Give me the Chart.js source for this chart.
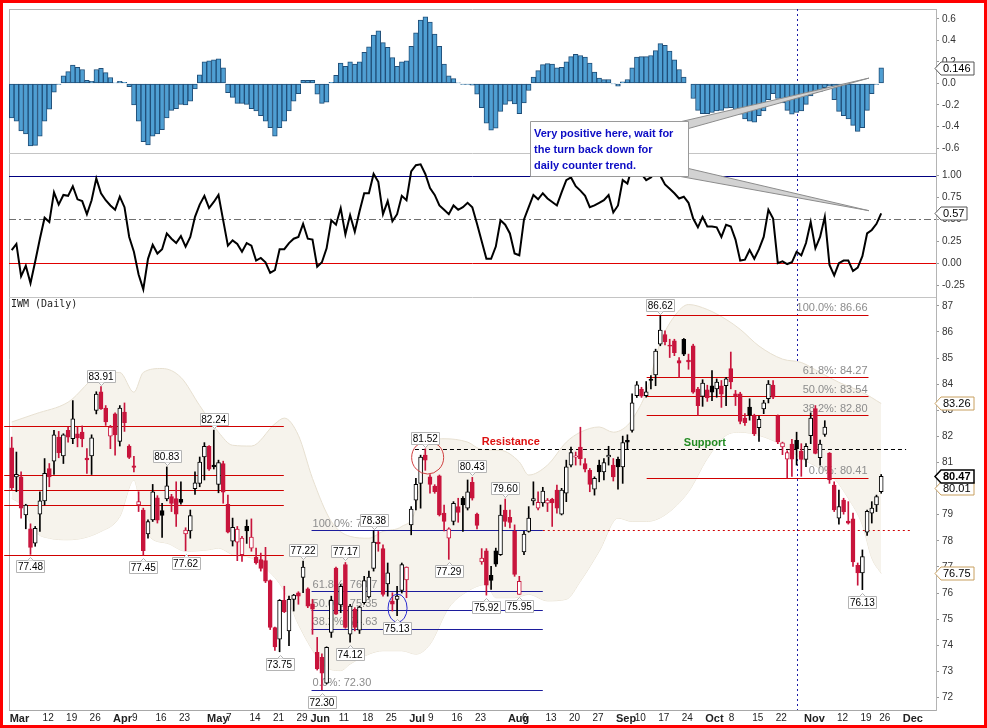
<!DOCTYPE html>
<html>
<head>
<meta charset="utf-8">
<title>IWM (Daily)</title>
<script src="https://cdn.jsdelivr.net/npm/chart.js@4.4.0/dist/chart.umd.min.js"></script>
<style>
  html, body { margin: 0; padding: 0; background: #fff; }
  #wrap { position: relative; width: 987px; height: 728px; }
  #chart { position: absolute; left: 0; top: 0; }
  #frame { position: absolute; left: 0; top: 0; width: 987px; height: 728px; box-sizing: border-box; border: 3px solid #ff0000; pointer-events: none; }
</style>
</head>
<body>
<div id="wrap">
  <canvas id="chart" width="987" height="728"></canvas>
  <div id="frame"></div>
</div>
<script>
// ---- daily IWM prices, Mar 1 - Nov 26 2012 (one entry per trading day) ----
const openP = [
  81.56, 80.45, 80.45, 78.99, 78.46, 77.91, 79.02, 79.53, 80.77, 81.05,
  81.97, 81.25, 82.23, 81.91, 82.10, 82.16, 81.17, 81.25, 82.99, 83.71,
  83.08, 82.01, 82.86, 81.81, 82.93, 81.63, 80.87, 79.37, 79.18, 78.26,
  78.80, 79.65, 79.16, 79.60, 79.69, 79.62, 79.59, 78.26, 78.38, 80.00,
  80.20, 81.21, 81.62, 80.90, 80.16, 80.96, 79.40, 77.99, 77.95, 77.47,
  78.55, 77.72, 77.38, 77.28, 77.24, 76.48, 74.68, 74.23, 75.72, 74.55,
  75.76, 76.01, 76.60, 76.16, 75.59, 73.73, 73.54, 72.55, 74.49, 76.96,
  75.54, 77.09, 74.42, 75.38, 74.58, 75.63, 75.85, 76.94, 77.95, 77.70,
  76.35, 75.69, 75.76, 76.10, 76.50, 78.61, 79.56, 80.20, 81.28, 80.45,
  80.10, 80.49, 79.06, 78.10, 78.74, 79.31, 79.63, 79.25, 80.24, 79.02,
  77.19, 77.62, 76.68, 77.62, 77.47, 79.18, 78.90, 78.36, 75.95, 77.57,
  78.36, 79.53, 79.25, 79.45, 79.44, 79.60, 79.94, 79.02, 79.82, 80.90,
  81.20, 81.59, 80.96, 80.70, 79.98, 80.90, 80.64, 81.21, 80.90, 81.12,
  80.83, 81.85, 82.23, 83.56, 83.81, 83.56, 84.19, 84.35, 85.53, 85.90,
  85.50, 85.66, 84.90, 85.72, 84.92, 85.47, 83.81, 83.53, 83.78, 83.94,
  83.82, 83.94, 83.94, 84.60, 83.63, 83.63, 82.70, 83.12, 82.80, 82.33,
  83.05, 83.44, 83.96, 82.78, 81.60, 81.13, 81.70, 81.85, 81.43, 81.12,
  82.03, 83.06, 81.18, 82.07, 81.36, 80.13, 78.87, 79.56, 78.76, 78.84,
  77.06, 76.77, 78.33, 79.06, 79.37, 79.88
];
const highP = [
  81.97, 81.40, 80.64, 79.40, 78.65, 78.55, 79.88, 81.15, 80.96, 82.23,
  82.19, 82.10, 82.36, 83.37, 82.36, 82.40, 81.53, 82.06, 83.71, 83.91,
  83.18, 82.42, 82.90, 83.18, 83.28, 81.68, 81.24, 79.88, 79.25, 78.80,
  80.16, 79.73, 79.44, 80.83, 79.78, 80.26, 80.26, 78.50, 79.18, 80.64,
  81.21, 81.76, 81.65, 82.24, 81.09, 81.05, 79.75, 78.87, 78.55, 78.17,
  78.80, 78.84, 77.72, 77.53, 77.75, 76.50, 74.70, 75.75, 76.26, 75.88,
  75.95, 76.05, 77.22, 76.20, 75.76, 74.30, 73.67, 73.94, 75.88, 76.99,
  76.33, 77.17, 75.57, 75.44, 75.50, 76.64, 76.84, 78.38, 78.36, 77.85,
  77.15, 76.01, 76.26, 77.15, 77.00, 79.31, 80.39, 81.28, 81.52, 80.54,
  80.15, 80.52, 79.37, 78.50, 79.50, 79.63, 79.69, 80.33, 80.43, 79.06,
  77.70, 77.70, 77.02, 77.72, 79.37, 79.60, 79.18, 78.61, 76.64, 78.36,
  79.31, 80.26, 79.88, 80.05, 79.62, 79.63, 80.13, 80.01, 81.09, 81.59,
  81.40, 82.35, 81.15, 80.77, 80.45, 81.09, 81.15, 81.62, 81.15, 81.21,
  82.01, 82.06, 83.63, 84.10, 83.88, 84.10, 84.33, 85.34, 86.62, 86.04,
  85.72, 85.72, 85.02, 85.75, 85.15, 85.53, 83.88, 84.17, 83.96, 84.52,
  84.20, 84.14, 84.26, 85.23, 83.76, 83.69, 82.87, 83.44, 82.85, 82.78,
  83.38, 84.14, 84.14, 82.82, 81.78, 81.45, 81.89, 82.16, 81.72, 81.72,
  82.90, 83.18, 81.86, 82.60, 81.38, 80.26, 79.94, 79.63, 79.50, 79.06,
  77.15, 77.65, 79.18, 79.50, 79.75, 80.54
];
const lowP = [
  79.94, 79.88, 78.87, 78.46, 77.48, 77.79, 78.36, 79.37, 80.07, 80.54,
  81.18, 80.96, 81.78, 81.72, 81.60, 81.60, 80.58, 80.54, 82.86, 83.03,
  82.42, 81.53, 81.28, 81.63, 82.19, 81.15, 80.64, 79.12, 77.45, 78.10,
  78.74, 78.68, 78.13, 79.53, 79.12, 78.55, 79.40, 77.62, 78.10, 79.78,
  80.07, 80.33, 80.70, 80.75, 79.84, 79.44, 78.30, 77.80, 77.24, 77.21,
  77.90, 77.60, 77.11, 76.84, 76.40, 74.60, 73.80, 73.75, 75.25, 73.98,
  75.31, 75.57, 76.01, 75.44, 74.42, 73.05, 72.30, 72.52, 74.30, 75.18,
  75.25, 74.65, 74.12, 74.55, 74.45, 75.57, 75.80, 76.84, 77.60, 75.88,
  75.88, 75.31, 75.13, 76.00, 75.82, 78.23, 79.18, 79.25, 80.70, 79.82,
  79.82, 78.95, 78.38, 77.29, 78.61, 78.71, 78.36, 79.18, 79.56, 78.46,
  77.10, 75.92, 76.14, 77.02, 77.44, 78.55, 78.49, 76.64, 75.95, 77.47,
  78.33, 79.37, 79.18, 79.32, 79.12, 78.55, 79.06, 78.99, 79.50, 80.83,
  80.90, 80.90, 80.64, 79.88, 79.75, 80.26, 80.33, 80.90, 80.29, 79.98,
  80.20, 81.53, 82.16, 83.49, 83.49, 83.50, 83.82, 83.94, 85.47, 85.50,
  85.02, 85.09, 84.26, 85.09, 84.57, 83.65, 82.80, 83.15, 83.34, 83.37,
  83.50, 83.11, 83.18, 83.82, 83.18, 82.48, 82.42, 82.62, 82.03, 81.81,
  82.87, 83.28, 83.44, 81.72, 81.30, 80.41, 80.47, 80.90, 80.47, 80.84,
  81.72, 81.33, 80.90, 82.00, 80.20, 79.12, 78.64, 79.02, 78.64, 77.02,
  76.30, 76.13, 78.21, 78.68, 79.12, 79.82
];
const closeP = [
  80.03, 80.55, 79.25, 79.37, 77.75, 78.48, 79.53, 80.58, 80.45, 82.06,
  81.38, 82.06, 81.97, 82.67, 81.94, 81.90, 81.10, 81.94, 83.62, 83.05,
  82.55, 82.36, 82.06, 83.08, 82.52, 81.19, 80.81, 79.50, 77.62, 78.74,
  79.88, 78.79, 78.97, 80.11, 79.43, 79.02, 79.47, 78.41, 78.97, 80.22,
  81.02, 81.62, 80.74, 80.83, 81.00, 79.86, 78.33, 78.52, 78.45, 78.10,
  78.38, 78.14, 77.15, 76.94, 76.45, 74.68, 73.94, 75.72, 75.29, 75.76,
  75.92, 75.88, 76.99, 75.50, 75.38, 73.09, 72.93, 73.92, 75.72, 75.19,
  76.26, 74.68, 75.50, 74.68, 75.46, 76.48, 76.61, 77.95, 77.88, 75.95,
  76.77, 75.57, 75.88, 77.09, 76.99, 79.22, 80.16, 81.21, 81.09, 80.16,
  79.88, 78.99, 78.74, 78.46, 79.44, 79.09, 79.37, 79.88, 79.63, 78.59,
  77.34, 76.30, 76.48, 77.11, 78.99, 78.74, 78.70, 76.71, 76.45, 78.26,
  78.87, 79.62, 79.47, 79.90, 79.56, 79.45, 79.25, 79.94, 80.83, 81.38,
  81.25, 81.15, 80.74, 80.16, 80.39, 80.64, 81.00, 81.28, 80.45, 80.83,
  81.76, 81.78, 83.28, 83.97, 83.54, 83.71, 84.14, 85.27, 86.07, 85.62,
  85.45, 85.21, 84.80, 85.15, 84.85, 83.69, 83.18, 84.04, 83.47, 83.69,
  84.08, 83.62, 84.20, 84.09, 83.54, 82.57, 82.52, 82.80, 82.10, 82.65,
  83.28, 84.00, 83.50, 81.79, 81.75, 81.38, 81.13, 81.53, 81.12, 81.62,
  82.70, 81.35, 81.70, 82.36, 80.33, 79.18, 79.31, 79.12, 78.68, 77.19,
  76.77, 77.40, 79.13, 79.25, 79.69, 80.47
];

// ---- MACD histogram (top pane) ----
const histVals = [
  -0.32, -0.35, -0.44, -0.47, -0.58, -0.575, -0.49, -0.35, -0.24, -0.08,
  -0.01, 0.07, 0.11, 0.17, 0.15, 0.13, 0.03, 0.02, 0.13, 0.14,
  0.10, 0.055, 0.006, 0.02, 0.01, -0.03, -0.20, -0.35, -0.54, -0.57,
  -0.49, -0.47, -0.43, -0.32, -0.25, -0.235, -0.195, -0.20, -0.165, -0.05,
  0.08, 0.20, 0.21, 0.22, 0.23, 0.145, -0.085, -0.13, -0.185, -0.185,
  -0.195, -0.235, -0.255, -0.30, -0.35, -0.41, -0.49, -0.41, -0.35, -0.255,
  -0.165, -0.095, 0.03, 0.03, 0.03, -0.10, -0.185, -0.175, 0.01, 0.075,
  0.19, 0.16, 0.20, 0.18, 0.20, 0.29, 0.34, 0.45, 0.49, 0.38,
  0.335, 0.24, 0.16, 0.20, 0.21, 0.345, 0.47, 0.59, 0.62, 0.57,
  0.46, 0.345, 0.18, 0.07, 0.045, 0.006, -0.01, -0.01, -0.015, -0.10,
  -0.225, -0.37, -0.435, -0.415, -0.26, -0.195, -0.165, -0.19, -0.28, -0.18,
  -0.065, 0.06, 0.12, 0.175, 0.185, 0.18, 0.145, 0.15, 0.20, 0.25,
  0.27, 0.26, 0.245, 0.19, 0.105, 0.05, 0.035, 0.037, -0.003, -0.025,
  0.015, 0.037, 0.145, 0.245, 0.25, 0.25, 0.26, 0.305, 0.37, 0.355,
  0.30, 0.22, 0.13, 0.06, 0.0, -0.14, -0.25, -0.28, -0.28, -0.27,
  -0.255, -0.25, -0.23, -0.225, -0.25, -0.285, -0.33, -0.35, -0.36, -0.30,
  -0.255, -0.15, -0.095, -0.14, -0.18, -0.25, -0.285, -0.27, -0.255, -0.195,
  -0.115, -0.085, -0.075, -0.04, -0.025, -0.15, -0.26, -0.30, -0.33, -0.39,
  -0.445, -0.41, -0.25, -0.095, -0.01, 0.146
];

// ---- oscillator (middle pane) ----
const oscVals = [
  0.15, 0.22, -0.15, -0.03, -0.23, 0.02, 0.28, 0.52, 0.47, 0.81,
  0.67, 0.78, 0.77, 0.88, 0.73, 0.71, 0.56, 0.72, 0.97, 0.80,
  0.72, 0.66, 0.61, 0.76, 0.64, 0.30, 0.13, -0.13, -0.30, 0.05,
  0.21, 0.11, 0.16, 0.34, 0.28, 0.23, 0.31, 0.19, 0.30, 0.53,
  0.67, 0.77, 0.63, 0.70, 0.78, 0.49, 0.20, 0.26, 0.22, 0.13,
  0.23, 0.20, 0.03, 0.06, 0.01, -0.11, -0.08, 0.16, 0.16, 0.23,
  0.28, 0.30, 0.45, 0.28, 0.27, -0.04, 0.01, 0.17, 0.49, 0.44,
  0.63, 0.33, 0.55, 0.36, 0.59, 0.80, 0.80, 1.02, 0.93, 0.56,
  0.71, 0.48, 0.56, 0.77, 0.72, 1.05, 1.12, 1.13, 1.02, 0.86,
  0.78, 0.66, 0.61, 0.56, 0.66, 0.61, 0.64, 0.69, 0.64, 0.45,
  0.25, 0.05, 0.05, 0.19, 0.49, 0.44, 0.34, 0.11, 0.09, 0.50,
  0.64, 0.78, 0.73, 0.80, 0.74, 0.70, 0.66, 0.81, 0.95, 0.98,
  0.88, 0.83, 0.77, 0.64, 0.66, 0.69, 0.72, 0.78, 0.58, 0.66,
  0.95, 0.91, 1.10, 1.16, 1.02, 0.95, 0.98, 1.04, 1.00, 0.90,
  0.85, 0.80, 0.74, 0.76, 0.69, 0.51, 0.41, 0.53, 0.42, 0.42,
  0.41, 0.30, 0.44, 0.42, 0.27, 0.03, 0.04, 0.15, 0.05, 0.16,
  0.30, 0.61, 0.51, 0.00, 0.02, -0.01, 0.01, 0.13, 0.09, 0.23,
  0.47, 0.17, 0.30, 0.53, -0.02, -0.14, 0.00, 0.03, 0.03, -0.09,
  -0.05, 0.08, 0.34, 0.38, 0.45, 0.57
];

// ---- Bollinger band edges, read at irregular day indexes ----
const bandUpDay = [0, 5, 12, 19, 23, 26, 28, 32, 36, 40, 44, 47, 51, 56, 58, 61, 64, 68, 72, 76, 79, 83, 86, 88, 92, 97, 100, 104, 108, 110, 114, 118, 121, 125, 128, 131, 133, 135, 138, 141, 144, 148, 152, 155, 159, 164, 168, 172, 176, 181, 185];
const bandUp = [82.55, 82.86, 83.31, 84.39, 84.45, 83.69, 84.45, 84.60, 84.26, 83.18, 82.16, 81.66, 81.63, 82.48, 82.70, 82.04, 80.39, 78.74, 78.17, 78.10, 78.36, 78.55, 79.25, 81.53, 81.91, 81.78, 81.50, 81.47, 81.02, 80.52, 80.90, 81.78, 82.16, 82.36, 82.16, 82.42, 82.93, 83.69, 85.59, 86.60, 87.05, 86.86, 86.48, 86.10, 85.46, 84.96, 84.83, 84.45, 84.07, 83.69, 83.26];
const bandLowDay = [0, 2, 5, 8, 12, 19, 23, 26, 27, 29, 33, 37, 42, 44, 47, 51, 54, 58, 61, 65, 67, 70, 72, 76, 79, 83, 86, 89, 93, 97, 101, 103, 107, 110, 114, 118, 121, 125, 129, 132, 135, 139, 144, 148, 152, 155, 159, 164, 168, 172, 175, 178, 181, 183, 185];
const bandLow = [79.63, 79.37, 78.36, 78.10, 78.04, 78.36, 78.93, 80.33, 79.75, 78.23, 77.91, 77.60, 77.66, 77.72, 77.47, 77.34, 76.96, 76.07, 74.80, 73.54, 73.15, 73.03, 73.28, 73.66, 73.79, 73.79, 73.66, 74.04, 75.44, 76.07, 76.33, 75.82, 75.82, 75.95, 75.70, 75.76, 76.45, 77.60, 78.87, 78.74, 78.74, 78.99, 79.88, 81.15, 82.04, 82.16, 82.04, 81.66, 81.15, 80.77, 80.39, 79.63, 78.61, 77.34, 76.75];
const bandMidLast = 80.01;

// ---- marked highs / lows ----
const markDay  = [19, 43, 33, 4, 28, 37, 62, 71, 77, 88, 98, 57, 72, 66, 82, 93, 105, 101, 108, 138, 181];
const markSide = ["H", "H", "H", "L", "L", "L", "H", "H", "H", "H", "H", "L", "L", "L", "L", "L", "H", "L", "L", "H", "L"];

// ---- drawn levels ----
const spring = [82.38, 80.53, 79.94, 79.37, 77.47];
const fibPct = [100, 61.8, 50, 38.2, 0];
const fibJune = [78.40, 76.07, 75.35, 74.63, 72.30];
const fibFall = [86.66, 84.27, 83.54, 82.80, 80.41];
const resistanceLevel = 81.53;

// ---- tick labels ----
const histTicks = [-0.6, -0.4, -0.2, 0, 0.2, 0.4, 0.6];
const oscTicks = [-0.25, 0, 0.25, 0.5, 0.75, 1];
const priceTicks = [72, 73, 74, 75, 76, 77, 78, 79, 80, 81, 82, 83, 84, 85, 86, 87];
const monthNames = ["Jan", "Feb", "Mar", "Apr", "May", "Jun", "Jul", "Aug", "Sep", "Oct", "Nov", "Dec"];
const holidays = ["2012-04-06", "2012-05-28", "2012-07-04", "2012-09-03", "2012-10-29", "2012-10-30", "2012-11-22"];
const calloutLines = ["Very positive here, wait for", "the turn back down for", "daily counter trend."];

// trading calendar -> x ticks (month name on first day, day number on week starts)
const tradingDays = [];
for (let d = new Date(2012, 2, 1); d <= new Date(2012, 11, 3); d.setDate(d.getDate() + 1)) {
  const key = d.getFullYear() + "-" + String(d.getMonth() + 1).padStart(2, "0") + "-" + String(d.getDate()).padStart(2, "0");
  if (d.getDay() === 0 || d.getDay() === 6 || holidays.includes(key)) continue;
  tradingDays.push(new Date(d));
}
const monthStarts = tradingDays.map((d, k) => k).filter(k => k === 0 || tradingDays[k - 1].getMonth() !== tradingDays[k].getMonth());
const xTicks = [];
tradingDays.forEach((d, k) => {
  const prev = tradingDays[k - 1];
  if (monthStarts.includes(k)) {
    xTicks.push({ value: k, label: monthNames[d.getMonth()], bold: true });
  } else if (prev.getDay() >= d.getDay() && !monthStarts.some(m => Math.abs(m - k) <= 2)) {
    xTicks.push({ value: k, label: String(d.getDate()), bold: false });
  }
});

const RED = "#c8143c";
const candleCol = closeP.map((c, i) => (i === 0 || c < closeP[i - 1]) ? RED : "#000");
const candleFill = closeP.map((c, i) => c < openP[i] ? candleCol[i] : "#fff");

const FONT = '"Liberation Sans", Arial, sans-serif';

function seg(ctx, x1, y1, x2, y2, color, width, dash) {
  ctx.save();
  ctx.strokeStyle = color;
  ctx.lineWidth = width || 1;
  ctx.setLineDash(dash || []);
  ctx.beginPath();
  ctx.moveTo(x1, y1);
  ctx.lineTo(x2, y2);
  ctx.stroke();
  ctx.restore();
}
const snap = v => Math.round(v) + 0.5;

function valueBox(ctx, cx, yAnchor, text, above) {
  ctx.save();
  ctx.font = "10px " + FONT;
  const w = Math.round(ctx.measureText(text).width) + 3;
  const h = 12;
  const cy = above ? yAnchor - 11 : yAnchor + 12;
  const l = Math.round(cx - w / 2) + 0.5, t = Math.round(cy - h / 2) + 0.5;
  ctx.fillStyle = "#fff";
  ctx.strokeStyle = "#b4b4b4";
  ctx.lineWidth = 1;
  ctx.beginPath();
  ctx.rect(l, t, w, h);
  ctx.fill();
  ctx.stroke();
  const mx = Math.round(cx) + 0.5;
  ctx.beginPath();
  if (above) {
    ctx.moveTo(mx - 3, t + h); ctx.lineTo(mx, t + h + 3); ctx.lineTo(mx + 3, t + h);
  } else {
    ctx.moveTo(mx - 3, t); ctx.lineTo(mx, t - 3); ctx.lineTo(mx + 3, t);
  }
  ctx.fill();
  ctx.stroke();
  ctx.fillStyle = "#000";
  ctx.textAlign = "center";
  ctx.textBaseline = "middle";
  ctx.fillText(text, cx, t + h / 2 + 0.5);
  ctx.restore();
}

function axisTag(ctx, x, y, text, border, bold) {
  ctx.save();
  ctx.font = (bold ? "bold " : "") + "11px " + FONT;
  const w = Math.round(ctx.measureText(text).width) + 5;
  const yy = Math.round(y) + 0.5;
  ctx.beginPath();
  ctx.moveTo(x, yy);
  ctx.lineTo(x + 6, yy - 6.5);
  ctx.lineTo(x + 6 + w, yy - 6.5);
  ctx.lineTo(x + 6 + w, yy + 6.5);
  ctx.lineTo(x + 6, yy + 6.5);
  ctx.closePath();
  ctx.fillStyle = "#fff";
  ctx.fill();
  ctx.strokeStyle = border;
  ctx.lineWidth = bold ? 1.5 : 1;
  ctx.stroke();
  ctx.fillStyle = "#000";
  ctx.textBaseline = "middle";
  ctx.textAlign = "left";
  ctx.fillText(text, x + 8, yy + 0.5);
  ctx.restore();
}

const annotate = {
  id: "annotate",
  beforeDatasetsDraw(chart) {
    const { ctx, chartArea: a, scales } = chart;
    const X = v => scales.x.getPixelForValue(v);
    const yO = v => scales.yO.getPixelForValue(v);
    seg(ctx, a.left + 0.5, a.top, a.left + 0.5, a.bottom, "#b4b4b4");
    seg(ctx, a.left, a.top + 0.5, a.right, a.top + 0.5, "#b4b4b4");
    seg(ctx, a.left, snap(scales.yH.bottom), a.right, snap(scales.yH.bottom), "#c4c4c4");
    seg(ctx, a.left, snap(scales.yO.bottom), a.right, snap(scales.yO.bottom), "#c4c4c4");
    seg(ctx, a.left, snap(yO(1)), a.right, snap(yO(1)), "#000080");
    seg(ctx, a.left, snap(yO(0.5)), a.right, snap(yO(0.5)), "#707070", 1, [7, 3, 2, 3]);
    seg(ctx, a.left, snap(yO(0)), a.right, snap(yO(0)), "#e00000");
    seg(ctx, snap(X(167.1)), a.top, snap(X(167.1)), a.bottom, "#1a1aa8", 1, [2, 3]);
  },
  beforeDatasetDraw(chart, args) {
    if (args.index !== 4) return;
    const { ctx, scales } = chart;
    const X = v => scales.x.getPixelForValue(v);
    const yP = v => scales.yP.getPixelForValue(v);
    spring.forEach(v => seg(ctx, X(-1.6), snap(yP(v)), X(57.9), snap(yP(v)), "#d00000"));
    seg(ctx, X(113), snap(yP(fibJune[0])), X(191.1), snap(yP(fibJune[0])), "#d00000", 1, [2, 3]);
    seg(ctx, X(85.8), snap(yP(resistanceLevel)), X(190.3), snap(yP(resistanceLevel)), "#000", 1, [4, 3]);
    ctx.save();
    ctx.font = "11px " + FONT;
    ctx.fillStyle = "#8c8c8c";
    ctx.textBaseline = "bottom";
    fibJune.forEach((v, k) => {
      seg(ctx, X(63.8), snap(yP(v)), X(113), snap(yP(v)), "#1c1c9c", 1.2);
      ctx.textAlign = "left";
      ctx.fillText(fibPct[k].toFixed(1) + "%: " + v.toFixed(2), X(63.8) + 1, yP(v) - 1);
    });
    fibFall.forEach((v, k) => {
      seg(ctx, X(135.1), snap(yP(v)), X(182.3), snap(yP(v)), "#d00000");
      ctx.textAlign = "right";
      ctx.fillText(fibPct[k].toFixed(1) + "%: " + v.toFixed(2), X(182.3) - 1, yP(v) - 1);
    });
    ctx.restore();
  },
  afterDraw(chart) {
    const { ctx, chartArea: a, scales } = chart;
    const X = v => scales.x.getPixelForValue(v);
    const yH = v => scales.yH.getPixelForValue(v);
    const yO = v => scales.yO.getPixelForValue(v);
    const yP = v => scales.yP.getPixelForValue(v);
    ctx.save();
    ctx.font = '10px "DejaVu Sans Mono", monospace';
    ctx.fillStyle = "#222";
    ctx.textBaseline = "middle";
    ctx.fillText("IWM (Daily)", a.left + 2, scales.yP.top + 7);
    ctx.font = "bold 11px " + FONT;
    ctx.fillStyle = "#dd1111";
    ctx.fillText("Resistance", X(100), yP(resistanceLevel) - 7);
    ctx.fillStyle = "#228b22";
    ctx.fillText("Support", X(143), yP(resistanceLevel) - 6);
    ctx.lineWidth = 1;
    ctx.strokeStyle = "#d04040";
    ctx.beginPath();
    ctx.ellipse(X(88.5), yP(81.19), 16, 16.5, 0, 0, Math.PI * 2);
    ctx.stroke();
    ctx.strokeStyle = "#2a2ad0";
    ctx.beginPath();
    ctx.ellipse(X(82.1), yP(75.42), 9.5, 14, 0, 0, Math.PI * 2);
    ctx.stroke();
    ctx.restore();
    markDay.forEach((d, k) => {
      const hi = markSide[k] === "H";
      const v = hi ? highP[d] : lowP[d];
      valueBox(ctx, X(d), yP(v), v.toFixed(2), hi);
    });
    // callout box with two pointers
    const bl = snap(X(110.3)), br = snap(X(143.9)), bt = snap(yH(-0.351)), bb = snap(yO(1));
    const tipX = X(182.4);
    ctx.save();
    ctx.fillStyle = "#d2d2d2";
    ctx.strokeStyle = "#8c8c8c";
    ctx.lineWidth = 1;
    ctx.beginPath();
    ctx.moveTo(br - 7, bt); ctx.lineTo(tipX, yH(0.05)); ctx.lineTo(br, bt + 7); ctx.closePath();
    ctx.fill(); ctx.stroke();
    ctx.beginPath();
    ctx.moveTo(br, bb - 8); ctx.lineTo(tipX, yO(0.6)); ctx.lineTo(br - 8, bb); ctx.closePath();
    ctx.fill(); ctx.stroke();
    ctx.fillStyle = "#fff";
    ctx.strokeStyle = "#9a9a9a";
    ctx.beginPath();
    ctx.rect(bl, bt, br - bl, bb - bt);
    ctx.fill(); ctx.stroke();
    ctx.font = "bold 11px " + FONT;
    ctx.fillStyle = "#0c0cc4";
    ctx.textBaseline = "middle";
    ctx.textAlign = "left";
    calloutLines.forEach((t, k) => ctx.fillText(t, bl + 3.5, bt + 12.5 + k * 16));
    ctx.restore();
    const tx = a.right - 1;
    const last = closeP.length - 1;
    axisTag(ctx, tx, yH(histVals[last]), histVals[last].toFixed(3), "#555", false);
    axisTag(ctx, tx, yO(oscVals[last]), oscVals[last].toFixed(2), "#555", false);
    axisTag(ctx, tx, yP(bandUp[bandUp.length - 1]), bandUp[bandUp.length - 1].toFixed(2), "#c8a060", false);
    axisTag(ctx, tx, yP(bandLow[bandLow.length - 1]), bandLow[bandLow.length - 1].toFixed(2), "#c8a060", false);
    axisTag(ctx, tx, yP(bandMidLast), bandMidLast.toFixed(2), "#c8a060", false);
    axisTag(ctx, tx, yP(closeP[last]), closeP[last].toFixed(2), "#000", true);
  }
};

function rightAxis(stackWeight, min, max, list, fmt) {
  return {
    type: "linear", position: "right", stack: "panes", stackWeight: stackWeight,
    min: min, max: max, bounds: "data",
    afterBuildTicks: s => { s.ticks = list.map(v => ({ value: v })); },
    afterFit: s => { s.width = 48; },
    grid: { drawOnChartArea: false, drawTicks: true, tickLength: 3, color: "#999" },
    border: { display: true, color: "#b4b4b4" },
    ticks: { autoSkip: false, padding: 3, color: "#333", font: { family: FONT, size: 10 }, callback: fmt }
  };
}

new Chart(document.getElementById("chart"), {
  type: "bar",
  data: {
    datasets: [
      {
        type: "line", yAxisID: "yP", order: 10,
        data: bandUp.map((v, k) => ({ x: bandUpDay[k], y: v })),
        borderColor: "#e7e0d1", borderWidth: 1, backgroundColor: "#f6f3ec",
        fill: "+1", pointRadius: 0, cubicInterpolationMode: "monotone"
      },
      {
        type: "line", yAxisID: "yP", order: 10,
        data: bandLow.map((v, k) => ({ x: bandLowDay[k], y: v })),
        borderColor: "#e7e0d1", borderWidth: 1, fill: false,
        pointRadius: 0, cubicInterpolationMode: "monotone"
      },
      {
        type: "bar", yAxisID: "yH", order: 3, grouped: false,
        data: histVals.map((v, i) => ({ x: i, y: v })),
        backgroundColor: "#4f9fd3", borderColor: "#1f4e78", borderWidth: 1, borderSkipped: false,
        categoryPercentage: 1, barPercentage: 1
      },
      {
        type: "line", yAxisID: "yO", order: 3,
        data: oscVals.map((v, i) => ({ x: i, y: v })),
        borderColor: "#000", borderWidth: 2, pointRadius: 0, tension: 0, fill: false
      },
      {
        type: "bar", yAxisID: "yP", order: 2, grouped: false,
        data: highP.map((h, i) => ({ x: i, y: [lowP[i], h] })),
        backgroundColor: candleCol, borderWidth: 0, barThickness: 1
      },
      {
        type: "bar", yAxisID: "yP", order: 1, grouped: false,
        data: openP.map((o, i) => ({ x: i, y: [o, closeP[i]] })),
        backgroundColor: candleFill, borderColor: candleCol, borderWidth: 1, borderSkipped: false,
        barThickness: 4, minBarLength: 1
      }
    ]
  },
  options: {
    responsive: false,
    animation: false,
    devicePixelRatio: 1,
    layout: { padding: { left: 9, top: 4, right: 3, bottom: 3 } },
    plugins: { legend: { display: false }, tooltip: { enabled: false } },
    scales: {
      x: {
        type: "linear", min: -0.574, max: 196.66, offset: false, bounds: "data",
        afterBuildTicks: s => { s.ticks = xTicks.map(t => ({ value: t.value })); },
        afterFit: s => { s.height = 15; },
        grid: { display: false, drawTicks: false },
        border: { display: true, color: "#a8a8a8", dash: [1, 2] },
        ticks: {
          autoSkip: false, maxRotation: 0, minRotation: 0, align: "start", padding: 2, labelOffset: -2, color: "#222",
          callback: v => { const t = xTicks.find(q => q.value === v); return t ? t.label : ""; },
          font: c => {
            const t = c.tick && xTicks.find(q => q.value === c.tick.value);
            return t && t.bold ? { family: FONT, size: 11, weight: "bold" } : { family: FONT, size: 10 };
          }
        }
      },
      yH: rightAxis(145, -0.646, 0.692, histTicks, v => v.toFixed(1)),
      yO: rightAxis(145, -0.386, 1.26, oscTicks, v => v.toFixed(2)),
      yP: rightAxis(416, 71.52, 87.34, priceTicks, v => String(v))
    }
  },
  plugins: [annotate]
});
</script>
</body>
</html>
